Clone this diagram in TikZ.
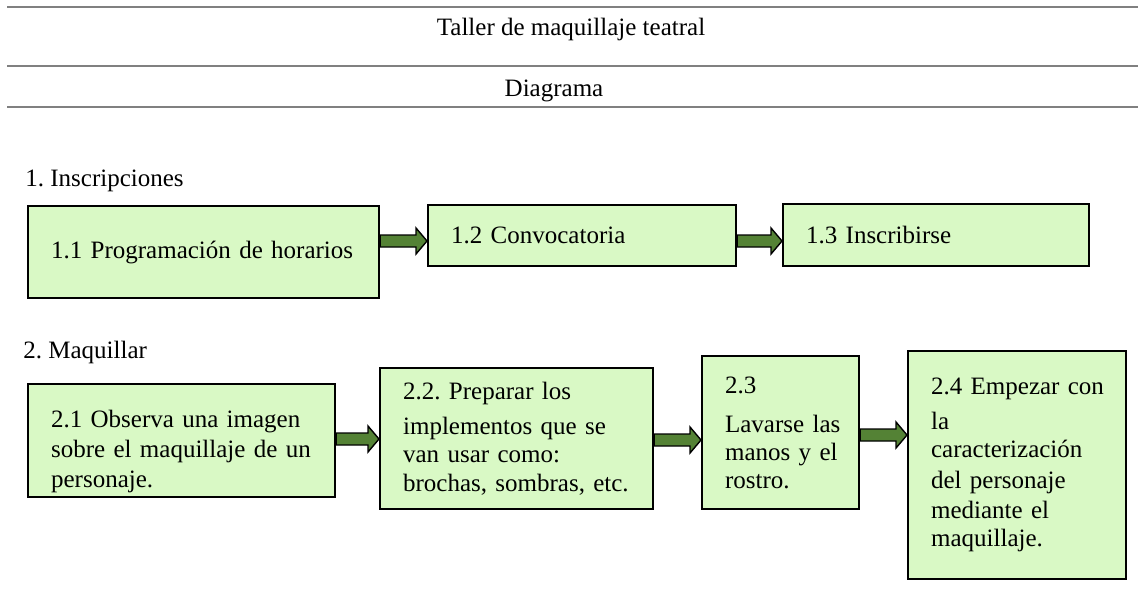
\documentclass[tikz,border=0pt]{standalone}
\usepackage{fontspec}
\setmainfont{Liberation Serif}
\usetikzlibrary{calc}

\definecolor{boxgreen}{RGB}{217,249,197}
\definecolor{arrowgreen}{RGB}{84,130,53}
\definecolor{rulegray}{RGB}{128,128,128}

\tikzset{
  stepbox/.style={rectangle, draw=black, line width=1.1pt, fill=boxgreen,
    anchor=north west, align=left, inner xsep=11.5pt, inner ysep=0pt},
  fatarrow/.style={draw=black, line width=0.7pt, fill=arrowgreen,
    to path={let \p1=(\tikztostart), \p2=(\tikztotarget) in
      (\x1,\y1+3pt) -- (\x2-5.5pt,\y1+3pt) -- (\x2-5.5pt,\y1+6.5pt) -- (\x2,\y1)
      -- (\x2-5.5pt,\y1-6.5pt) -- (\x2-5.5pt,\y1-3pt) -- (\x1,\y1-3pt) -- cycle}},
  headrule/.style={draw=rulegray, line width=1pt},
}

\begin{document}
\begin{tikzpicture}[x=0.5pt, y=-0.5pt, font=\fontsize{12.5}{14}\selectfont\frenchspacing]
            \useasboundingbox (0,0) rectangle (1138,607);
            % header
            \draw[headrule] (7,7) -- (1138,7);
            \draw[headrule] (7,66) -- (1138,66);
            \draw[headrule] (7,107) -- (1138,107);
            \node[anchor=base, inner sep=0pt] (title) at (571,35) {Taller de maquillaje teatral};
            \node[anchor=base, inner sep=0pt] (diag) at (554,96) {Diagrama};
            % 1. Inscripciones
            \node[anchor=base west, inner sep=0pt] (sec1) at (25,186) {1. Inscripciones};
            \node[stepbox, text width=152.5pt, minimum height=46pt] (A1) at (27,205) {1.1 Programación de horarios};
            \node[stepbox, text width=131pt, minimum height=30.5pt] (A2) at (427,204) {1.2 Convocatoria};
            \node[stepbox, text width=130pt, minimum height=31pt] (A3) at (782,203) {1.3 Inscribirse};
            \draw[fatarrow] (A1.east |- 0,241) to (A2.west);
            \draw[fatarrow] (A2.east |- 0,241) to (A3.west);
            % 2. Maquillar
            \node[anchor=base west, inner sep=0pt] (sec2) at (23,358) {2. Maquillar};
            \node[stepbox, text width=130.5pt, minimum height=56.5pt] (B1) at (27,383)
                {\rule{0pt}{20pt}2.1 Observa una imagen\\[1pt] \mbox{sobre el maquillaje de un}\\[1pt] personaje.};
            \node[stepbox, text width=113.5pt, minimum height=70.5pt] (B2) at (379,367)
                {2.2. Preparar los\\[3.5pt] implementos que se\\ van usar como:\\[0.5pt] \mbox{brochas, sombras, etc.}};
            \node[stepbox, text width=55.5pt, minimum height=76.5pt] (B3) at (701,355)
                {2.3\\[5.5pt] \mbox{Lavarse las}\\ \mbox{manos y el}\\ rostro.};
            \node[stepbox, text width=86pt, minimum height=114pt] (B4) at (907,350)
                {\mbox{2.4 Empezar con}\\[3.5pt] la\\ caracterización\\[1.5pt] del personaje\\[1pt] mediante el\\ maquillaje.};
            \draw[fatarrow] (B1.east |- 0,439) to (B2.west);
            \draw[fatarrow] (B2.east |- 0,440) to (B3.west);
            \draw[fatarrow] (B3.east |- 0,435) to (B4.west);
        \end{tikzpicture}
\end{document}
